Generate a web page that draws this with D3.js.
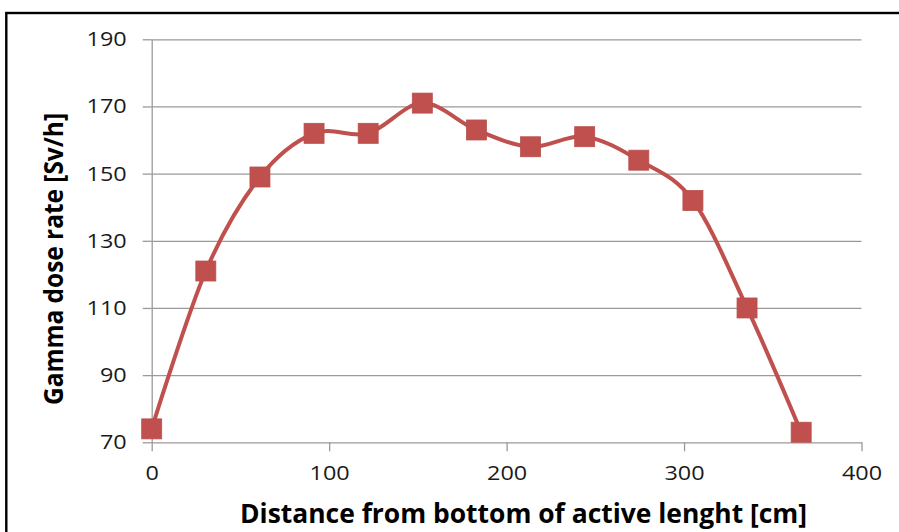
<!DOCTYPE html>
<html>
<head>
<meta charset="utf-8">
<script src="https://cdn.jsdelivr.net/npm/d3@7/dist/d3.min.js"></script>
<style>
  html, body { margin: 0; padding: 0; background: #fff; }
  svg { display: block; font-family: "Open Sans", "Liberation Sans", sans-serif; }
</style>
</head>
<body>
<svg id="chart" width="899" height="532"></svg>
<script>
// ===== DATA =====
const distance = [0, 30.5, 61, 91.5, 122, 152.5, 183, 213.5, 244, 274.5, 305, 335.5, 366];
const doseRate = [74, 121, 149, 162, 162, 171, 163, 158, 161, 154, 142, 110, 73];
const xTicks = [0, 100, 200, 300, 400];
const yTicks = [70, 90, 110, 130, 150, 170, 190];
const xTitle = 'Distance from bottom of active lenght [cm]';
const yTitle = 'Gamma dose rate [Sv/h]';

// ===== LAYOUT =====
const X0 = 151.7, X1 = 861.5;   // plot left / right
const Y0 = 442.3, Y1 = 39.3;    // plot bottom / top
const RED = '#C0504D';
const GRID = '#9a9a9a';
const TICK_FONT = 20;
const STRETCH = 1.17;           // reference text is a bit wider than the font

const svg = d3.select('#chart');

// outer frame (runs off the right and bottom edges)
svg.append('rect')
  .attr('x', 6.3).attr('y', 13)
  .attr('width', 1000).attr('height', 1000)
  .attr('fill', 'none')
  .attr('stroke', '#000')
  .attr('stroke-width', 2.4);

const x = d3.scaleLinear().domain([0, 400]).range([X0, X1]);
const y = d3.scaleLinear().domain([70, 190]).range([Y0, Y1]);

// gridlines
svg.append('g')
  .attr('class', 'grid')
  .attr('transform', `translate(${X0},0)`)
  .call(d3.axisLeft(y).tickValues(yTicks.slice(1)).tickSize(-(X1 - X0)).tickFormat(''))
  .call(g => g.select('.domain').remove())
  .call(g => g.selectAll('line').attr('stroke', GRID).attr('stroke-width', 1.3));

function stretchText(sel) {
  sel.each(function() {
    const w = this.getComputedTextLength();
    d3.select(this).attr('textLength', w * STRETCH).attr('lengthAdjust', 'spacingAndGlyphs');
  });
}

// y axis
svg.append('g')
  .attr('transform', `translate(${X0},0)`)
  .call(d3.axisLeft(y).tickValues(yTicks).tickSize(9).tickSizeOuter(0).tickPadding(16))
  .call(g => g.select('.domain').attr('stroke', GRID).attr('stroke-width', 1.3))
  .call(g => g.selectAll('line').attr('stroke', GRID).attr('stroke-width', 1.3))
  .call(g => g.selectAll('text')
    .attr('font-family', '"Open Sans", sans-serif')
    .attr('font-size', TICK_FONT)
    .attr('fill', '#1a1a1a')
    .call(stretchText));

// x axis
svg.append('g')
  .attr('transform', `translate(0,${Y0})`)
  .call(d3.axisBottom(x).tickValues(xTicks).tickSize(9).tickSizeOuter(0).tickPadding(15))
  .call(g => g.select('.domain').attr('stroke', GRID).attr('stroke-width', 1.3))
  .call(g => g.selectAll('line').attr('stroke', GRID).attr('stroke-width', 1.3))
  .call(g => g.selectAll('text')
    .attr('font-family', '"Open Sans", sans-serif')
    .attr('font-size', TICK_FONT)
    .attr('fill', '#1a1a1a')
    .call(stretchText));

// axis titles
svg.append('text')
  .attr('x', 240).attr('y', 523)
  .attr('font-size', 26)
  .attr('font-weight', 'bold')
  .attr('fill', '#000')
  .attr('textLength', 567)
  .attr('lengthAdjust', 'spacingAndGlyphs')
  .text(xTitle);

svg.append('text')
  .attr('transform', 'translate(63,259) rotate(-90)')
  .attr('text-anchor', 'middle')
  .attr('font-size', 27)
  .attr('font-weight', 'bold')
  .attr('fill', '#000')
  .attr('textLength', 292)
  .attr('lengthAdjust', 'spacingAndGlyphs')
  .text(yTitle);

// series
const pts = distance.map((d, i) => ({ d, v: doseRate[i] }));

const line = d3.line()
  .x(p => x(p.d))
  .y(p => y(p.v))
  .curve(d3.curveCardinal.tension(0));

svg.append('path')
  .datum(pts)
  .attr('d', line)
  .attr('fill', 'none')
  .attr('stroke', RED)
  .attr('stroke-width', 4)
  .attr('stroke-linejoin', 'round');

const MS = 20; // marker size
svg.append('g')
  .selectAll('rect')
  .data(pts)
  .enter()
  .append('rect')
  .attr('x', p => x(p.d) - MS / 2)
  .attr('y', p => y(p.v) - MS / 2)
  .attr('width', MS)
  .attr('height', MS)
  .attr('fill', RED)
  .attr('stroke', '#b9504d')
  .attr('stroke-width', 0.8);
</script>
</body>
</html>
